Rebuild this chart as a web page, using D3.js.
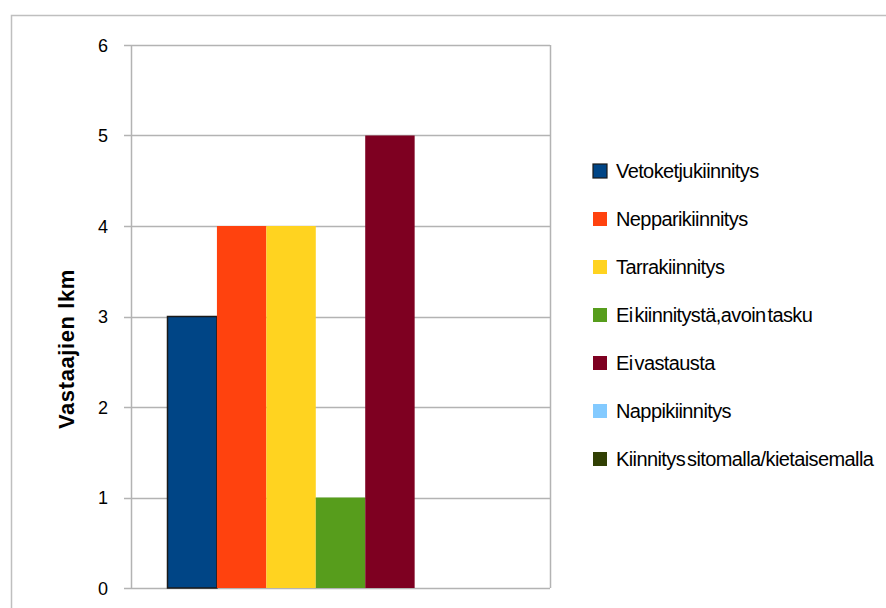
<!DOCTYPE html>
<html>
<head>
<meta charset="utf-8">
<script src="https://cdn.jsdelivr.net/npm/d3@7"></script>
<style>
  body { margin: 0; background: #fff; }
  svg text { font-family: "Liberation Sans", Arial, sans-serif; }
</style>
</head>
<body>
<div id="chart"></div>
<script>
// data
const seriesNames = ["Vetoketjukiinnitys", "Nepparikiinnitys", "Tarrakiinnitys",
    "Ei kiinnitystä,avoin tasku", "Ei vastausta", "Nappikiinnitys",
    "Kiinnitys sitomalla/kietaisemalla"]
const seriesValues = [3, 4, 4, 1, 5, 0, 0]
const seriesColors = ["#004586", "#ff420e", "#ffd320", "#579d1c", "#7e0021", "#83caff", "#314004"]
const yTicks = [0, 1, 2, 3, 4, 5, 6]
const yTitle = "Vastaajien lkm"

const W = 886, H = 608
const plot = {left: 131, right: 550, top: 45, bottom: 588}

const svg = d3.select("#chart").append("svg")
    .attr("width", W).attr("height", H)

// outer frame
svg.append("rect")
    .attr("x", 11.5).attr("y", 15.5)
    .attr("width", W).attr("height", H)
    .attr("fill", "none").attr("stroke", "#bfbfbf").attr("stroke-width", 1.5)

const y = d3.scaleLinear().domain([0, 6]).range([plot.bottom, plot.top])

// group of 7 bars centred in the single category
const groupW = 346
const x = d3.scaleBand()
    .domain(seriesNames)
    .range([(plot.left + plot.right - groupW) / 2, (plot.left + plot.right + groupW) / 2])

// grid + ticks
svg.append("g").selectAll("line").data(yTicks).enter().append("line")
    .attr("x1", plot.left - 7).attr("x2", plot.right)
    .attr("y1", d => Math.round(y(d)) + 0.5).attr("y2", d => Math.round(y(d)) + 0.5)
    .attr("stroke", "#b3b3b3").attr("stroke-width", 1.5)

svg.append("line")
    .attr("x1", plot.left + 0.5).attr("x2", plot.left + 0.5)
    .attr("y1", plot.top).attr("y2", plot.bottom)
    .attr("stroke", "#b3b3b3").attr("stroke-width", 1.5)
svg.append("line")
    .attr("x1", plot.right + 0.5).attr("x2", plot.right + 0.5)
    .attr("y1", plot.top).attr("y2", plot.bottom)
    .attr("stroke", "#b3b3b3").attr("stroke-width", 1.5)

svg.append("g").selectAll("text").data(yTicks).enter().append("text")
    .attr("x", 108).attr("y", d => y(d) + 6.5)
    .attr("text-anchor", "end")
    .attr("font-size", 18)
    .attr("fill", "#000")
    .text(d => d)

// bars
svg.append("g").selectAll("rect").data(seriesNames).enter().append("rect")
    .attr("x", d => x(d))
    .attr("y", (d, i) => y(seriesValues[i]))
    .attr("width", x.bandwidth())
    .attr("height", (d, i) => y(0) - y(seriesValues[i]))
    .attr("fill", (d, i) => seriesColors[i])
    .attr("stroke", (d, i) => i == 0 ? "#1a1a1a" : "none")
    .attr("stroke-width", 1.5)

// y title
svg.append("text")
    .attr("transform", "translate(74,349) rotate(-90)")
    .attr("text-anchor", "middle")
    .attr("font-size", 22)
    .attr("font-weight", "bold")
    .attr("letter-spacing", 0.6)
    .text(yTitle)

// legend
const leg = svg.append("g").selectAll("g").data(seriesNames).enter().append("g")
    .attr("transform", (d, i) => "translate(593," + (164 + i * 48) + ")")
leg.append("rect")
    .attr("width", 14).attr("height", 14)
    .attr("fill", (d, i) => seriesColors[i])
    .attr("stroke", (d, i) => i == 0 ? "#1a1a1a" : "none")
    .attr("stroke-width", 1.2)
leg.append("text")
    .attr("x", 23).attr("y", 14)
    .attr("font-size", 20)
    .attr("letter-spacing", -0.6)
    .attr("word-spacing", -3)
    .text(d => d)
</script>
</body>
</html>
